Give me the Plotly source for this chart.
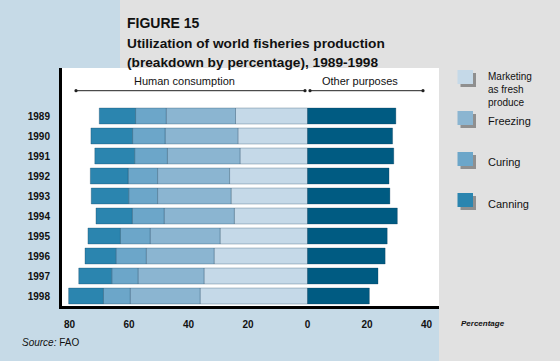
import plotly.graph_objects as go

years = ["1989", "1990", "1991", "1992", "1993", "1994", "1995", "1996", "1997", "1998"]
fresh = [24.2, 23.4, 22.7, 26.2, 25.7, 24.6, 29.4, 31.4, 34.8, 36.1]
freezing = [23.3, 24.5, 24.4, 24.2, 24.7, 23.6, 23.5, 22.8, 22.2, 23.5]
curing = [10.3, 10.9, 11.0, 9.9, 9.7, 10.7, 10.0, 10.2, 8.8, 9.0]
canning = [12.2, 14.0, 13.4, 12.7, 12.6, 12.2, 10.9, 10.4, 11.1, 11.7]
other = [29.7, 28.6, 29.0, 27.4, 27.7, 30.2, 26.8, 26.1, 23.7, 20.8]
tick_vals = [-80, -60, -40, -20, 0, 20, 40]
tick_text = ["80", "60", "40", "20", "0", "20", "40"]

C_FRESH = "#c5d9e8"
C_FREEZ = "#8bb5d1"
C_CURE = "#6ca6c9"
C_CAN = "#2b85af"
C_OTHER = "#005b82"
BLUE_BG = "#c6dae7"
GRAY_BG = "#e1e1e1"

W, H = 560, 361
L, R, T, B = 60, 439, 106, 306


def xp(px):
    return (px - L) / (R - L)


def yp(py):
    return (B - py) / (B - T)


edge = dict(width=0.8, color="rgba(10,50,80,0.35)")
fig = go.Figure()
for name, vals, col in [("Marketing as fresh produce", fresh, C_FRESH),
                        ("Freezing", freezing, C_FREEZ),
                        ("Curing", curing, C_CURE),
                        ("Canning", canning, C_CAN)]:
    fig.add_trace(go.Bar(y=years, x=[-v for v in vals], orientation="h",
                         marker=dict(color=col, line=edge), name=name,
                         showlegend=False, width=0.8))
fig.add_trace(go.Bar(y=years, x=other, orientation="h",
                     marker=dict(color=C_OTHER, line=edge), name="Other purposes",
                     showlegend=False, width=0.8))

shapes = []


def rect(x0, y0, x1, y1, color, layer="below"):
    shapes.append(dict(type="rect", xref="paper", yref="paper",
                       x0=xp(x0), x1=xp(x1), y0=yp(y0), y1=yp(y1),
                       fillcolor=color, line=dict(width=0), layer=layer))


def line(x0, y0, x1, y1, color, width, layer="above"):
    shapes.append(dict(type="line", xref="paper", yref="paper",
                       x0=xp(x0), x1=xp(x1), y0=yp(y0), y1=yp(y1),
                       line=dict(color=color, width=width), layer=layer))


def dot(cx, cy, r, color):
    shapes.append(dict(type="circle", xref="paper", yref="paper",
                       x0=xp(cx - r), x1=xp(cx + r), y0=yp(cy + r), y1=yp(cy - r),
                       fillcolor=color, line=dict(width=0), layer="above"))


# backgrounds
rect(0, 0, 120, 68, BLUE_BG)
rect(0, 0, 59, H, BLUE_BG)
rect(0, 308, 439, H, BLUE_BG)
rect(61, 68, 439, 306, "white")
# frame
line(60.5, 68, 60.5, 309, "black", 3)
line(59, 307.5, 439, 307.5, "black", 3)
# header lines
line(76, 90.7, 305, 90.7, "#222", 1)
line(310, 90.7, 423, 90.7, "#222", 1)
for cx in (76, 305, 310, 423):
    dot(cx, 90.7, 1.6, "#222")

# legend squares
leg = [(70, C_FRESH), (111, C_FREEZ), (152, C_CURE), (193, C_CAN)]
for top, col in leg:
    rect(460.5, top + 3, 476, top + 17, "#8f8f8f", layer="above")
    rect(457.5, top, 473, top + 14, col, layer="above")

ann = []


def text(x, y, s, size, xanchor="left", color="#111", family="Liberation Sans", weight="normal", style="normal"):
    ann.append(dict(x=xp(x), y=yp(y), xref="paper", yref="paper", text=s,
                    showarrow=False, xanchor=xanchor, yanchor="middle", align="left",
                    font=dict(size=size, color=color, family=family, weight=weight, style=style)))


TF = "Liberation Sans, Arial"
text(125, 23.5, "FIGURE 15", 14, family=TF, weight="bold")
text(125, 43.5, "Utilization of world fisheries production", 13.7, family=TF, weight="bold")
text(125, 63, "(breakdown by percentage), 1989-1998", 13.7, family=TF, weight="bold")
text(184.5, 81.5, "Human consumption", 11, xanchor="center")
text(359.5, 81.5, "Other purposes", 11, xanchor="center")
text(486, 89, "Marketing<br>as fresh<br>produce", 10)
text(486, 121, "Freezing", 11)
text(486, 162, "Curing", 11)
text(486, 204, "Canning", 11)
text(459, 323, "Percentage", 8, weight="bold", style="italic")
text(20, 342, "<i>Source:</i> FAO", 10)

fig.update_layout(
    width=W, height=H,
    margin=dict(l=L, r=W - R, t=T, b=H - B, pad=0),
    paper_bgcolor=GRAY_BG, plot_bgcolor="rgba(0,0,0,0)",
    barmode="relative", bargap=0.2,
    shapes=shapes, annotations=ann,
    xaxis=dict(range=[-(307.5 - L) / 2.975, (R - 307.5) / 2.975],
               tickvals=tick_vals, ticktext=tick_text,
               ticks="outside", ticklen=9, tickcolor="rgba(0,0,0,0)",
               showgrid=False, zeroline=False, showline=False,
               tickfont=dict(family="Liberation Sans", size=10, color="#111", weight="bold"),
               fixedrange=True),
    yaxis=dict(categoryorder="array", categoryarray=years, range=[9.5, -0.5],
               ticks="outside", ticklen=7, tickcolor="rgba(0,0,0,0)",
               showgrid=False, zeroline=False, showline=False,
               tickfont=dict(family="Liberation Sans", size=10, color="#111", weight="bold"),
               fixedrange=True),
)

fig.write_html("out.html", config={"displayModeBar": False},
               post_script="document.body.style.margin='0';document.body.style.padding='0';")
